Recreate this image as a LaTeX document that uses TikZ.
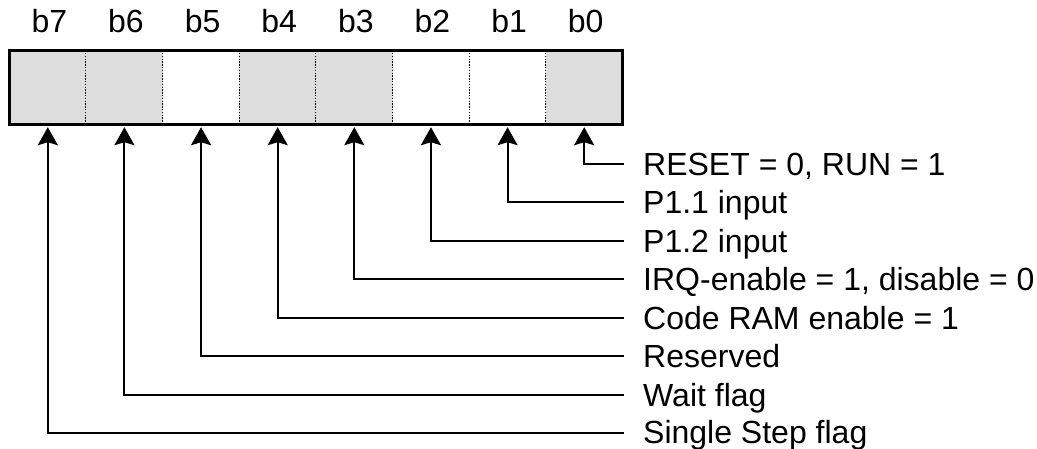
\documentclass[tikz,border=0pt]{standalone}
\usepackage{fontspec}
\setmainfont{Liberation Sans}
\usetikzlibrary{arrows.meta}
\definecolor{regfill}{RGB}{221,221,221}
\begin{document}
\begin{tikzpicture}[x=1pt,y=-1pt,
  every node/.style={inner sep=0pt,font=\fontsize{32}{37}\selectfont},
  cellbox/.style={minimum width=76.625pt,minimum height=74pt,draw=none},
  bitlabel/.style={anchor=base},
  desc/.style={anchor=base west},
  divider/.style={line width=1pt,dash pattern=on 1.4pt off 1.4pt},
  regframe/.style={line width=3pt},
  pointer/.style={line width=2pt,{Stealth[length=18pt,width=20pt,inset=3pt]}-}
]
\useasboundingbox (0,0) rectangle (1037,449);
% cells
\foreach \i/\f in {0/regfill,1/white,2/white,3/regfill,4/regfill,5/white,6/regfill,7/regfill}{
  \pgfmathsetmacro\cx{622.5-76.625*(\i+0.5)}
  \node[cellbox,fill=\f] (c\i) at (\cx,87.5) {};
  \node[bitlabel] (t\i) at (\cx+1.5,33) {b\i};
}
% dividers
\foreach \i in {0,...,6}{
  \draw[divider] (c\i.north west) -- (c\i.south west);
}
% frame
\draw[regframe] (c7.north west) rectangle (c0.south east);
% descriptions
\node[desc] (d0) at (643,175.5) {RESET = 0, RUN = 1};
\node[desc] (d1) at (643,213.9) {P1.1 input};
\node[desc] (d2) at (643,252.4) {P1.2 input};
\node[desc] (d3) at (643,290.8) {IRQ-enable = 1, disable = 0};
\node[desc] (d4) at (643,329.2) {Code RAM enable = 1};
\node[desc] (d5) at (643,367.7) {Reserved};
\node[desc] (d6) at (643,406.1) {Wait flag};
\node[desc] (d7) at (643,443.5) {Single Step flag};
% line ends
\coordinate (e0) at (624,164);
\coordinate (e1) at (624,202.4);
\coordinate (e2) at (624,240.9);
\coordinate (e3) at (624,279.3);
\coordinate (e4) at (624,317.7);
\coordinate (e5) at (624,356.2);
\coordinate (e6) at (624,394.6);
\coordinate (e7) at (624,433);
\foreach \i in {0,...,7}{
  \draw[pointer] ([yshift=-2.5pt]c\i.south) |- (e\i);
}
\end{tikzpicture}
\end{document}
